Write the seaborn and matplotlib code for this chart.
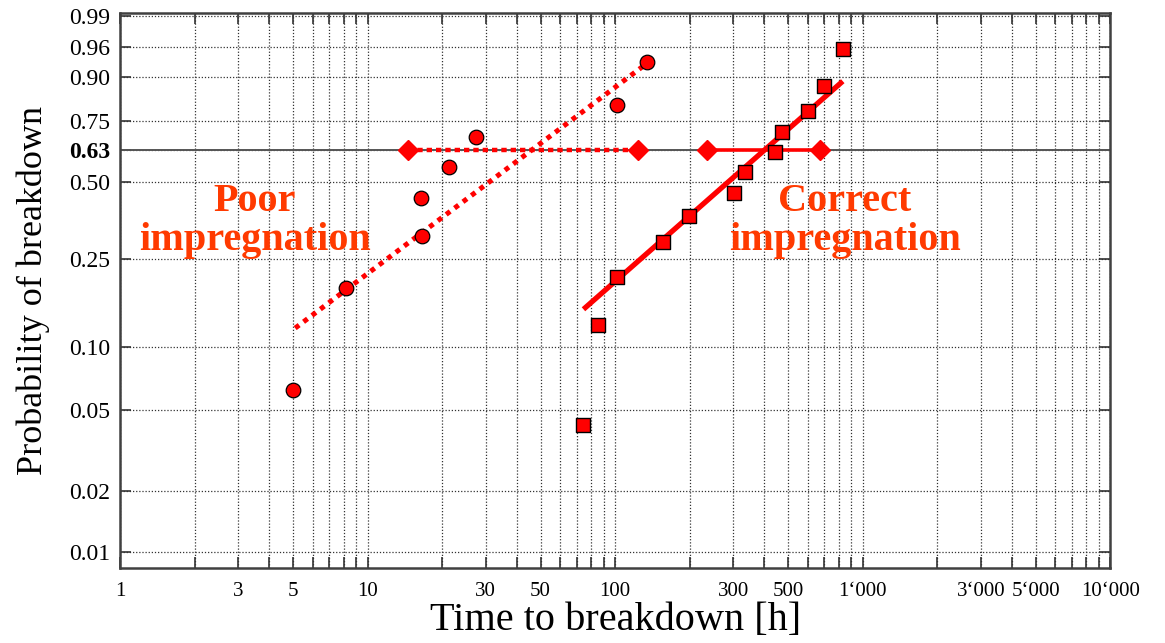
import numpy as np
import pandas as pd
import matplotlib.pyplot as plt
import seaborn as sns

# data (Weibull probability plot)
poor_t = [5.0, 8.2, 16.6, 16.5, 21.4, 27.5, 102, 134]
poor_p = [0.062, 0.186, 0.311, 0.437, 0.560, 0.685, 0.811, 0.934]
poor_fit_t = [5.1, 130]
poor_fit_p = [0.122, 0.926]
poor_ci_t = [14.6, 124]

good_t = [74.5, 84.9, 102, 155.5, 198, 301, 334, 441, 471, 600, 697, 831]
good_p = [0.042, 0.126, 0.208, 0.294, 0.374, 0.456, 0.539, 0.622, 0.706, 0.789, 0.874, 0.957]
good_fit_t = [74.5, 831]
good_fit_p = [0.149, 0.888]
good_ci_t = [236, 671]

p_eta = 0.63
yticks = [0.01, 0.02, 0.05, 0.10, 0.25, 0.50, 0.63, 0.75, 0.90, 0.96, 0.99]
xticks = [1, 3, 5, 10, 30, 50, 100, 300, 500, 1000, 3000, 5000, 10000]
xticklabels = ["1", "3", "5", "10", "30", "50", "100", "300", "500",
               "1\u2018000", "3\u2018000", "5\u2018000", "10\u2018000"]

df_poor = pd.DataFrame({"t": poor_t, "p": poor_p})
df_good = pd.DataFrame({"t": good_t, "p": good_p})

sns.set_style("ticks")
plt.rcParams['font.family'] = ['Liberation Serif', 'DejaVu Serif']
plt.rcParams['text.color'] = 'black'
plt.rcParams['axes.labelcolor'] = 'black'
plt.rcParams['xtick.labelcolor'] = 'black'
plt.rcParams['ytick.labelcolor'] = 'black'


def weib(p):
    p = np.clip(np.asarray(p, dtype=float), 1e-9, 1 - 1e-12)
    return np.log(-np.log(1 - p))


def weib_inv(w):
    return 1 - np.exp(-np.exp(np.asarray(w, dtype=float)))


fig = plt.figure(figsize=(11.65, 6.43), dpi=100)
ax = fig.add_axes([0.103, 0.1166, 0.850, 0.863])

ax.set_xscale('log')
ax.set_yscale('function', functions=(weib, weib_inv))
ax.set_xlim(1, 10000)
ax.set_ylim(0.00834, 0.9915)

red = '#FF0000'
# fitted lines
ax.plot(poor_fit_t, poor_fit_p, color=red, lw=3.6, ls=(0, (1, 1.1)), zorder=3)
ax.plot(good_fit_t, good_fit_p, color=red, lw=3.8, solid_capstyle='butt', zorder=3)
# confidence ranges at 63 %
ax.axhline(p_eta, color='#555555', lw=1.4, zorder=1)
ax.plot(poor_ci_t, [p_eta] * 2, color=red, lw=3.2, ls=(0, (1.2, 0.9)),
        marker='D', ms=10, mec=red, zorder=3)
ax.plot(good_ci_t, [p_eta] * 2, color=red, lw=2.6, marker='D', ms=10,
        mec=red, zorder=3)

sns.scatterplot(data=df_poor, x='t', y='p', ax=ax, marker='o', s=110,
                color=red, edgecolor='black', linewidth=0.9, zorder=4)
sns.scatterplot(data=df_good, x='t', y='p', ax=ax, marker='s', s=115,
                color=red, edgecolor='black', linewidth=1.0, zorder=4)

# axes & grid
ax.set_yticks(yticks)
ax.set_yticklabels([f"{v:.2f}" for v in yticks], fontsize=17)
ax.yaxis.set_minor_locator(plt.NullLocator())
for lab, v in zip(ax.get_yticklabels(), yticks):
    if v == p_eta:
        lab.set_fontweight('bold')
ax.set_xticks(xticks)
ax.set_xticklabels(xticklabels, fontsize=15)
minor = [m * 10 ** d for d in range(4) for m in range(2, 10)
         if m * 10 ** d not in xticks]
ax.set_xticks(minor, minor=True)
ax.xaxis.set_minor_formatter(plt.NullFormatter())

ax.grid(True, which='both', axis='x', color='#333333', lw=0.9, ls=(0, (1, 1.5)))
ax.grid(True, which='major', axis='y', color='#333333', lw=0.9, ls=(0, (1, 1.5)))
ax.tick_params(which='both', direction='in', top=True, right=True,
               length=8, width=1.2, color='#333333')
ax.tick_params(axis='x', which='major', pad=10)
ax.tick_params(axis='y', which='major', pad=7)
for s in ax.spines.values():
    s.set_color('#404040')
    s.set_linewidth(1.8)

ax.set_xlabel("Time to breakdown [h]", fontsize=29, labelpad=1)
ax.set_ylabel("Probability of breakdown", fontsize=26, labelpad=14)

txt = '#FF3A00'
ax.text(0.136, 0.625, "Poor\nimpregnation", transform=ax.transAxes, ha='center',
        va='center', fontsize=29, fontweight='bold', color=txt, linespacing=1.08)
ax.text(0.732, 0.625, "Correct\nimpregnation", transform=ax.transAxes, ha='center',
        va='center', fontsize=29, fontweight='bold', color=txt, linespacing=1.08)

fig.savefig("out.png", dpi=100)
